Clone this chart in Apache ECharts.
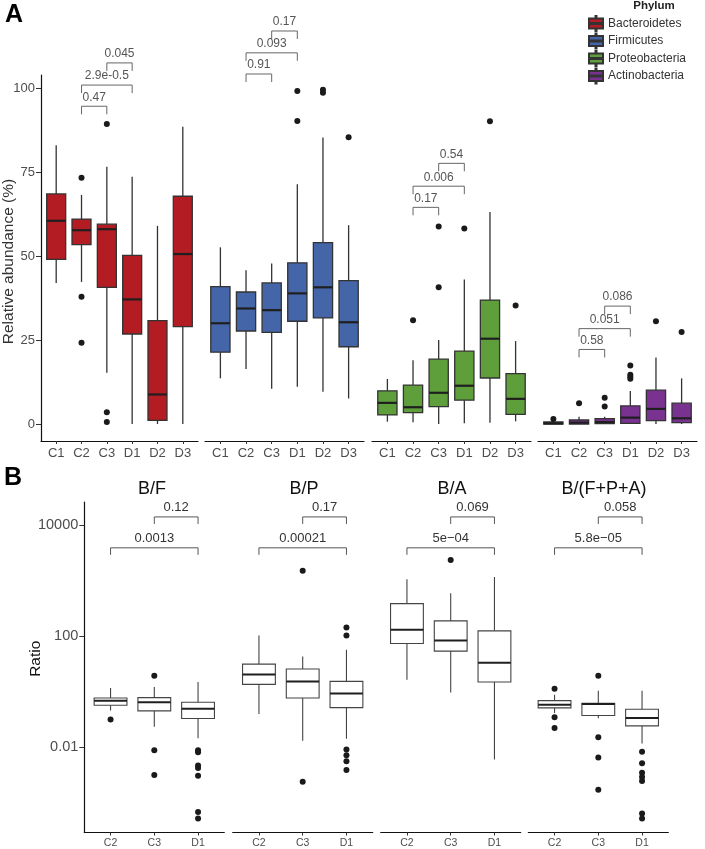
<!DOCTYPE html>
<html>
<head>
<meta charset="utf-8">
<title>Relative abundance and ratios</title>
<script src="https://cdn.jsdelivr.net/npm/echarts@6.0.0/dist/echarts.min.js"></script>
<style>
  html, body { margin: 0; padding: 0; background: #fff; }
  #chart { width: 705px; height: 849px; }
</style>
</head>
<body>
<div id="chart"></div>
<script>
// ---------- panel A : relative abundance (%) ----------
const groupsA = ['C1', 'C2', 'C3', 'D1', 'D2', 'D3'];
const phyla = ['Bacteroidetes', 'Firmicutes', 'Proteobacteria', 'Actinobacteria'];
const yTicksA = [0, 25, 50, 75, 100];

// one row per group: [lower whisker, Q1, median, Q3, upper whisker]
const bacteroidetesBox = [[42, 49, 60.5, 68.5, 83], [42.3, 53.4, 57.7, 61, 68.2], [15.3, 40.7, 58, 59.5, 76.6],
                          [0, 26.8, 37.1, 50.2, 73.6], [0, 1.1, 8.8, 30.8, 59], [0, 29, 50.6, 67.8, 88.5]];
const bacteroidetesOut = [[], [73.3, 37.9, 24.2], [89.3, 3.5, 0.6], [], [], []];

const firmicutesBox = [[13.6, 21.4, 30, 40.9, 52.6], [16.4, 27.7, 34.4, 39.3, 45.8], [10.5, 27.3, 33.9, 42, 47.8],
                       [11.1, 30.6, 38.9, 48, 71.4], [9.6, 31.6, 40.7, 54, 85.3], [7.6, 23, 30.3, 42.7, 59.2]];
const firmicutesOut = [[], [], [], [99.1, 90.2], [99.5, 98.6], [85.4]];

const proteobacteriaBox = [[0.7, 2.7, 6.3, 9.9, 13.4], [0.5, 3.4, 5, 11.6, 19], [0, 5.2, 9.3, 19.3, 25],
                           [0.2, 7.1, 11.4, 21.7, 43], [0.4, 13.7, 25.4, 36.9, 63.1], [0.8, 2.9, 7.5, 15, 24.7]];
const proteobacteriaOut = [[], [30.9], [58.8, 40.7], [58.2], [90.1], [35.3]];

const actinobacteriaBox = [[0, 0, 0.2, 0.6, 1.2], [0, 0, 0.4, 1.2, 2.2], [0, 0.1, 0.6, 1.6, 2.2],
                           [0, 0.2, 1.9, 5.4, 9.8], [0, 1, 4.5, 10.1, 19.8], [0, 0.4, 1.7, 6.2, 13.6]];
const actinobacteriaOut = [[1.5], [6.2], [7.8, 5.2], [17.4, 14.7, 14.1, 13.5], [30.6], [27.4]];

// comparisons C2-C3, C2-D1, C3-D1 (group indexes) and their bracket heights
const bracketPairsA = [[1, 2], [1, 3], [2, 3]];
const bracketYA = [[94.6, 100.9, 107.5], [104.2, 110.5, 117], [64.5, 70.8, 77.6], [22.2, 28.4, 35.1]];
const pValuesA = [['0.47', '2.9e-0.5', '0.045'], ['0.91', '0.093', '0.17'],
                  ['0.17', '0.006', '0.54'], ['0.58', '0.051', '0.086']];

// ---------- panel B : ratios, log scale (values in plotted log units) ----------
const groupsB = ['C2', 'C3', 'D1'];
const ratios = ['B/F', 'B/P', 'B/A', 'B/(F+P+A)'];
const yTicksB = [0, 2, 4];
const yTickLabelsB = ['0.01', '100', '10000'];

const bfBox = [[0.66, 0.755, 0.839, 0.888, 1.067], [0.367, 0.654, 0.809, 0.893, 1.085], [0.162, 0.516, 0.695, 0.809, 1.175]];
const bfOut = [[0.498], [1.288, -0.054, -0.503], [-0.054, -0.09, -0.329, -0.377, -0.514, -1.168, -1.287]];

const bpBox = [[0.6, 1.132, 1.312, 1.498, 2.013], [0.115, 0.888, 1.186, 1.409, 1.635], [0.151, 0.713, 0.97, 1.186, 1.756]];
const bpOut = [[], [3.181, -0.622], [2.156, 2.013, -0.041, -0.144, -0.252, -0.413]];

const baBox = [[1.217, 1.869, 2.115, 2.588, 3.026], [0.988, 1.732, 1.923, 2.277, 2.775], [-0.221, 1.175, 1.522, 2.097, 3.067]];
const baOut = [[], [3.373], []];

const bfpaBox = [[0.618, 0.708, 0.767, 0.839, 0.947], [0.52, 0.57, 0.78, 0.791, 1.019], [0.066, 0.385, 0.528, 0.683, 1.019]];
const bfpaOut = [[1.055, 0.539, 0.348], [1.288, 0.18, -0.185, -0.766],
                 [-0.083, -0.288, -0.46, -0.539, -0.611, -1.197, -1.287]];

// comparisons C2-D1, C3-D1
const bracketPairsB = [[0, 2], [1, 2]];
const bracketYB = [3.594, 4.151];
const pValuesB = [['0.0013', '0.12'], ['0.00021', '0.17'], ['5e\u221204', '0.069'], ['5.8e\u221205', '0.058']];

// ---------- layout / styles ----------
const FONT = '"Liberation Sans", Arial, Helvetica, sans-serif';
const colorsA = ['#B21C22', '#4565A9', '#5E9F3B', '#7A3291'];
const gridLeftA = [39, 205, 372, 538];
const gridLeftB = [84.3, 232.7, 380.7, 528.3];

let grids = [], xAxes = [], yAxes = [], series = [];

function xAxisCfg(gi, cats, fontSize, margin) {
    let idx = cats.map(function (c, i) { return i; });
    return {
        gridIndex: gi, type: 'value', min: -0.6, max: cats.length - 0.4,
        splitLine: { show: false },
        axisLine: { onZero: false, lineStyle: { color: '#111', width: 1.2 } },
        axisTick: { customValues: idx, length: 3, lineStyle: { color: '#333' } },
        axisLabel: {
            customValues: idx, margin: margin, fontSize: fontSize, color: '#4d4d4d', fontFamily: FONT,
            formatter: function (v) { return cats[Math.round(v)]; }
        }
    };
}

// box + whiskers drawn through the axes of the grid
function boxSeries(name, gi, boxes, fill, st) {
    return {
        name: name, type: 'custom', xAxisIndex: gi, yAxisIndex: gi,
        itemStyle: { color: fill, borderColor: '#333', borderWidth: 1 },
        encode: { x: 0, y: [1, 2, 3, 4, 5] },
        data: boxes.map(function (b, i) { return [i].concat(b); }),
        renderItem: function (params, api) {
            let x = api.value(0);
            let lo = api.coord([x, api.value(1)]);
            let q1 = api.coord([x, api.value(2)]);
            let md = api.coord([x, api.value(3)]);
            let q3 = api.coord([x, api.value(4)]);
            let hi = api.coord([x, api.value(5)]);
            let half = api.size([0.75, 0])[0] / 2;
            let cx = lo[0];
            let line = { stroke: st.stroke, lineWidth: st.width };
            return {
                type: 'group',
                children: [
                    { type: 'line', shape: { x1: cx, y1: hi[1], x2: cx, y2: q3[1] }, style: line },
                    { type: 'line', shape: { x1: cx, y1: q1[1], x2: cx, y2: lo[1] }, style: line },
                    { type: 'rect', shape: { x: cx - half, y: q3[1], width: half * 2, height: q1[1] - q3[1] },
                      style: { fill: fill, stroke: st.stroke, lineWidth: st.width } },
                    { type: 'line', shape: { x1: cx - half, y1: md[1], x2: cx + half, y2: md[1] },
                      style: { stroke: '#1f1f1f', lineWidth: st.median } }
                ]
            };
        }
    };
}

function outlierSeries(gi, outs) {
    let pts = [];
    outs.forEach(function (list, i) {
        list.forEach(function (v) { pts.push([i, v]); });
    });
    return {
        type: 'scatter', xAxisIndex: gi, yAxisIndex: gi, symbolSize: 6,
        itemStyle: { color: '#1a1a1a', opacity: 1 }, data: pts, silent: true
    };
}

// significance brackets with p-values on top
function bracketSeries(gi, pairs, ys, labels, st) {
    return {
        type: 'custom', xAxisIndex: gi, yAxisIndex: gi, clip: false, silent: true,
        encode: { x: [0, 1], y: 2 },
        data: pairs.map(function (p, i) { return [p[0], p[1], ys[i]]; }),
        renderItem: function (params, api) {
            let a = api.coord([api.value(0), api.value(2)]);
            let b = api.coord([api.value(1), api.value(2)]);
            return {
                type: 'group',
                children: [
                    { type: 'polyline',
                      shape: { points: [[a[0], a[1] + st.tick], [a[0], a[1]], [b[0], b[1]], [b[0], b[1] + st.tick]] },
                      style: { stroke: st.stroke, lineWidth: 1, fill: null } },
                    { type: 'text', x: (a[0] + b[0]) / 2, y: a[1] - st.gap,
                      style: { text: labels[params.dataIndex], align: 'center', verticalAlign: 'bottom',
                               fill: st.color, fontSize: st.fontSize, fontFamily: FONT } }
                ]
            };
        }
    };
}

// panel A facets
const boxesA = [bacteroidetesBox, firmicutesBox, proteobacteriaBox, actinobacteriaBox];
const outsA = [bacteroidetesOut, firmicutesOut, proteobacteriaOut, actinobacteriaOut];
phyla.forEach(function (name, f) {
    let gi = grids.length;
    grids.push({ left: gridLeftA[f], top: 75, width: 159, height: 366 });
    xAxes.push(xAxisCfg(gi, groupsA, 13, 6));
    let y = { gridIndex: gi, type: 'value', min: -5.05, max: 103.9, show: f === 0, splitLine: { show: false } };
    if (f === 0) {
        y.axisLine = { show: true, onZero: false, lineStyle: { color: '#111', width: 1.2 } };
        y.axisTick = { show: true, customValues: yTicksA, length: 5, lineStyle: { color: '#333' } };
        y.axisLabel = { customValues: yTicksA, margin: 6, fontSize: 13, color: '#4d4d4d', fontFamily: FONT };
        y.name = 'Relative abundance (%)';
        y.nameLocation = 'middle';
        y.nameGap = 24;
        y.nameMoveOverlap = false;
        y.nameTextStyle = { fontSize: 15.5, color: '#333', fontFamily: FONT, padding: [0, 7, 0, 0] };
    }
    yAxes.push(y);
    series.push(boxSeries(name, gi, boxesA[f], colorsA[f], { stroke: '#333', width: 1.3, median: 2.2 }));
    series.push(outlierSeries(gi, outsA[f]));
    series.push(bracketSeries(gi, bracketPairsA, bracketYA[f], pValuesA[f],
        { tick: 8, gap: 3, stroke: '#666', color: '#555', fontSize: 12 }));
});

// panel B facets
const boxesB = [bfBox, bpBox, baBox, bfpaBox];
const outsB = [bfOut, bpOut, baOut, bfpaOut];
ratios.forEach(function (name, f) {
    let gi = grids.length;
    grids.push({ left: gridLeftB[f], top: 502, width: 140, height: 331 });
    xAxes.push(xAxisCfg(gi, groupsB, 10.5, 5.5));
    let y = { gridIndex: gi, type: 'value', min: -1.538, max: 4.42, show: f === 0, splitLine: { show: false } };
    if (f === 0) {
        y.axisLine = { show: true, onZero: false, lineStyle: { color: '#111', width: 1.2 } };
        y.axisTick = { show: true, customValues: yTicksB, length: 5, lineStyle: { color: '#333' } };
        y.axisLabel = {
            customValues: yTicksB, margin: 6, fontSize: 14.5, color: '#4d4d4d', fontFamily: FONT,
            formatter: function (v) { return yTickLabelsB[yTicksB.indexOf(Math.round(v))]; }
        };
        y.name = 'Ratio';
        y.nameLocation = 'middle';
        y.nameGap = 41;
        y.nameMoveOverlap = false;
        y.nameTextStyle = { fontSize: 15.5, color: '#111', fontFamily: FONT, padding: [0, 0, 0, 17] };
    }
    yAxes.push(y);
    series.push(boxSeries(name, gi, boxesB[f], '#ffffff', { stroke: '#444', width: 1.1, median: 2 }));
    series.push(outlierSeries(gi, outsB[f]));
    series.push(bracketSeries(gi, bracketPairsB, bracketYB, pValuesB[f],
        { tick: 7, gap: 3, stroke: '#555', color: '#333', fontSize: 13 }));
});

const titleX = [152, 304, 452, 604];

let chart = echarts.init(document.getElementById('chart'), null, { renderer: 'canvas' });
chart.setOption({
    animation: false,
    backgroundColor: '#fff',
    grid: grids,
    xAxis: xAxes,
    yAxis: yAxes,
    legend: {
        data: phyla, orient: 'vertical', left: 588, top: 15, padding: 0,
        itemWidth: 14, itemHeight: 15, itemGap: 0.5, selectedMode: false,
        // boxplot key: whisker stub, box split by the median, whisker stub
        icon: 'path://M6.5,0h1v2.5h-1z M0,2.5h14v4.5h-14z M0,8h14v4.5h-14z M6.5,12.5h1v2.5h-1z',
        textStyle: { fontSize: 12, lineHeight: 15, color: '#333', fontFamily: FONT }
    },
    graphic: [
        { type: 'text', x: 5, y: 3, style: { text: 'A', fontSize: 25, fontWeight: 'bold', fill: '#000', fontFamily: FONT } },
        { type: 'text', x: 4, y: 466, style: { text: 'B', fontSize: 25, fontWeight: 'bold', fill: '#000', fontFamily: FONT } },
        { type: 'text', x: 654, y: 6, style: { text: 'Phylum', align: 'center', verticalAlign: 'middle',
            fontSize: 11.5, fontWeight: 'bold', fill: '#222', fontFamily: FONT } }
    ].concat(ratios.map(function (r, i) {
        return { type: 'text', x: titleX[i], y: 489,
                 style: { text: r, align: 'center', verticalAlign: 'middle', fontSize: 18, fill: '#111', fontFamily: FONT } };
    })),
    series: series
});
</script>
</body>
</html>
